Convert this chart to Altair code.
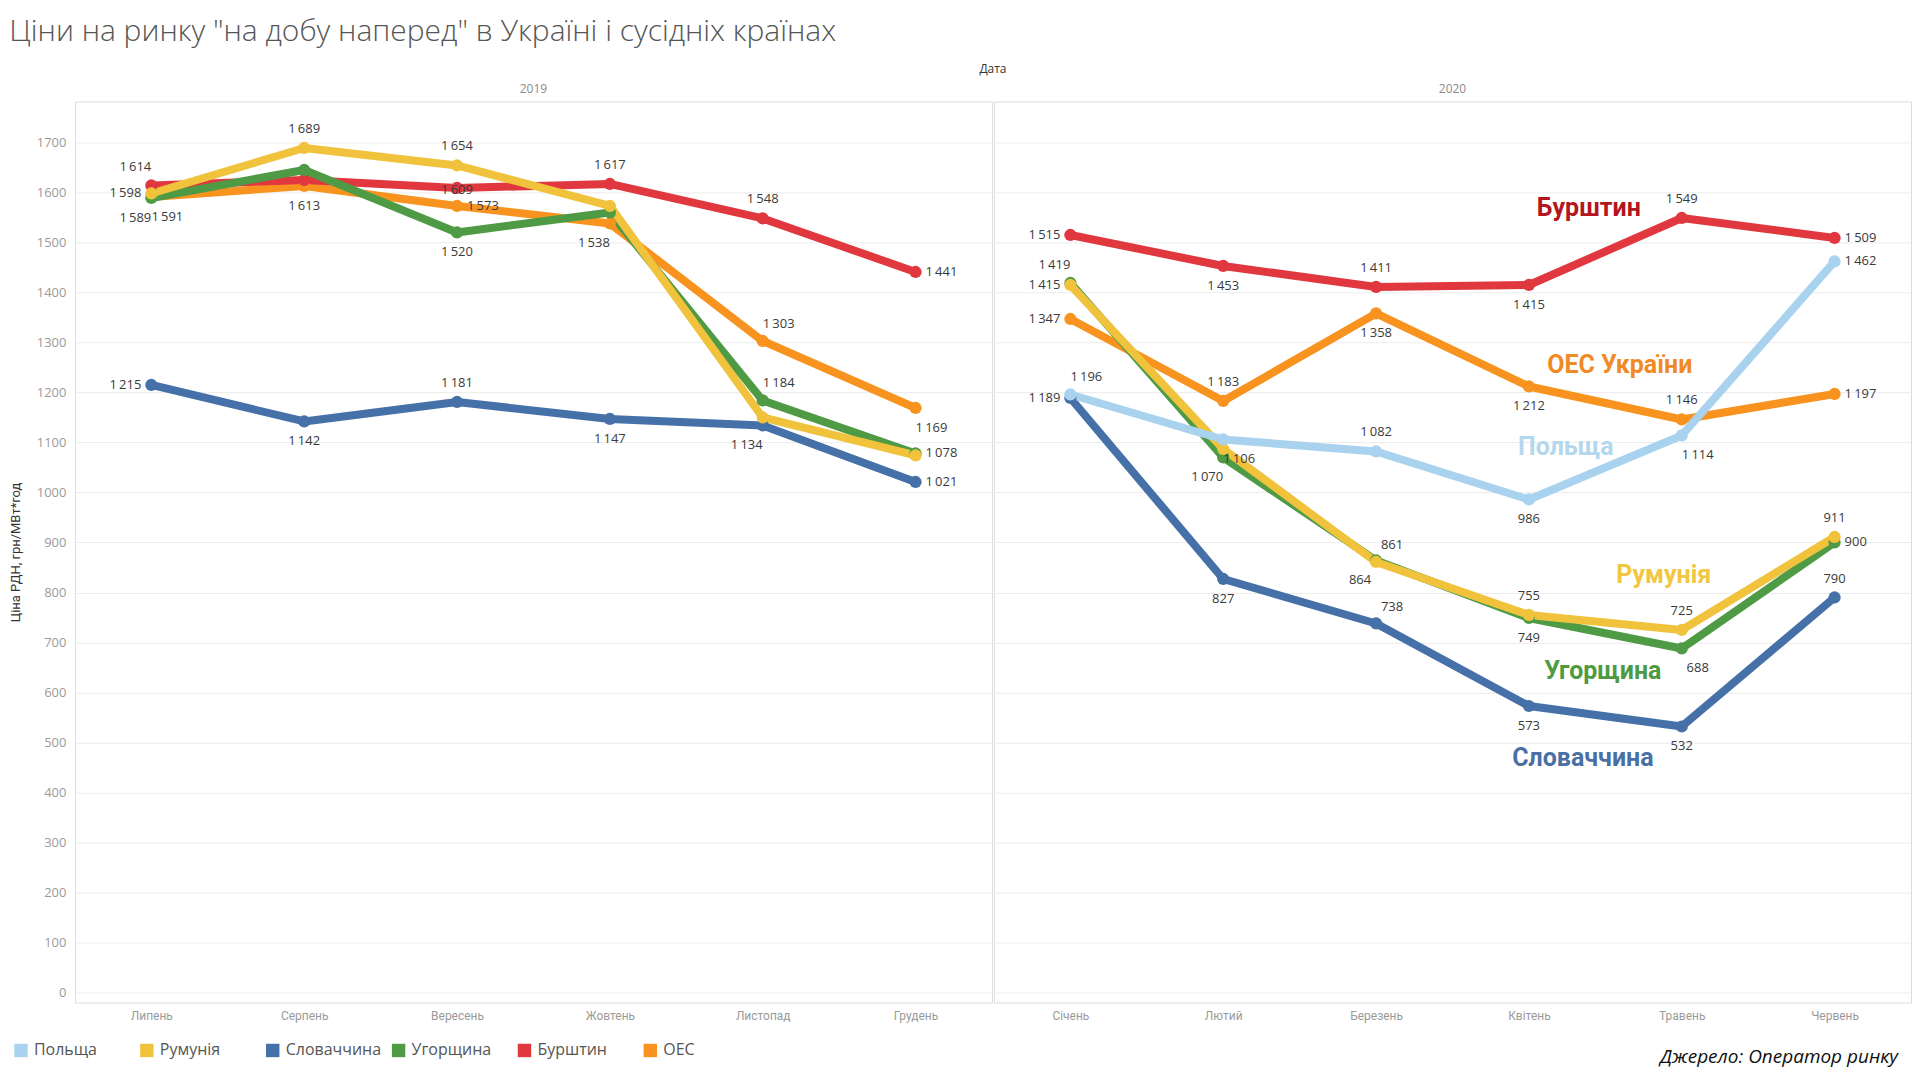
import altair as alt
import pandas as pd

# ---------------- data ----------------
years = ["2019", "2020"]
months_2019 = ["Липень", "Серпень", "Вересень", "Жовтень", "Листопад", "Грудень"]
months_2020 = ["Січень", "Лютий", "Березень", "Квітень", "Травень", "Червень"]

series = ["Польща", "Румунія", "Словаччина", "Угорщина", "Бурштин", "ОЕС"]
colors = ["#a9d2ee", "#f1c33d", "#4670a8", "#4f9a45", "#e0383e", "#f7931e"]

# drawing order (bottom -> top)
draw_order = ["ОЕС", "Бурштин", "Словаччина", "Угорщина", "Румунія", "Польща"]

values = {
    ("Польща", "2019"): None,
    ("Польща", "2020"): [1196, 1106, 1082, 986, 1114, 1462],
    ("Румунія", "2019"): [1598, 1689, 1654, 1573, 1150, 1074],
    ("Румунія", "2020"): [1415, 1087, 861, 755, 725, 911],
    ("Словаччина", "2019"): [1215, 1142, 1181, 1147, 1134, 1021],
    ("Словаччина", "2020"): [1189, 827, 738, 573, 532, 790],
    ("Угорщина", "2019"): [1589, 1645, 1520, 1560, 1184, 1078],
    ("Угорщина", "2020"): [1419, 1070, 864, 749, 688, 900],
    ("Бурштин", "2019"): [1614, 1625, 1609, 1617, 1548, 1441],
    ("Бурштин", "2020"): [1515, 1453, 1411, 1415, 1549, 1509],
    ("ОЕС", "2019"): [1591, 1613, 1573, 1538, 1303, 1169],
    ("ОЕС", "2020"): [1347, 1183, 1358, 1212, 1146, 1197],
}

# label placement codes ("" = no label)
placement = {
    ("Польща", "2020"): ["ar", "br", "a", "b", "br", "r"],
    ("Румунія", "2019"): ["l", "a", "a", "", "", ""],
    ("Румунія", "2020"): ["l", "", "ar", "a", "a", "a"],
    ("Словаччина", "2019"): ["l", "b", "a", "b", "bl", "r"],
    ("Словаччина", "2020"): ["l", "b", "ar", "b", "b", "a"],
    ("Угорщина", "2019"): ["bl", "", "b", "", "ar", "r"],
    ("Угорщина", "2020"): ["al", "bl", "bl", "b", "br", "r"],
    ("Бурштин", "2019"): ["al", "", "c", "a", "a", "r"],
    ("Бурштин", "2020"): ["l", "b", "a", "b", "a", "r"],
    ("ОЕС", "2019"): ["br", "b", "r", "bl", "ar", "br"],
    ("ОЕС", "2020"): ["l", "a", "b", "b", "a", "r"],
}

# in-chart series annotations (2020 panel)
ann_names = ["Бурштин", "ОЕС України", "Польща", "Румунія", "Угорщина", "Словаччина"]
ann_month = ["Квітень", "Травень", "Квітень", "Травень", "Квітень", "Квітень"]
ann_value = [1569, 1255, 1091, 834, 642, 468]
ann_colors = ["#b3161c", "#f08a24", "#b4d7ee", "#f2c640", "#4d9a3f", "#4a6fa5"]
ann_dx = [60, -62, 37, -18, 74, 54]

source_text = "Джерело: Оператор ринку"

# ---------------- table ----------------
rows = []
for s in draw_order:
    for y in years:
        vals = values.get((s, y))
        if vals is None:
            continue
        months = months_2019 if y == "2019" else months_2020
        for i, (m, v) in enumerate(zip(months, vals)):
            rows.append(dict(kind="data", year=y, month=m, series=s, value=v,
                             label=f"{v:,}".replace(",", "\u2009"),
                             pos=placement[(s, y)][i], name=""))
for n, m, v in zip(ann_names, ann_month, ann_value):
    rows.append(dict(kind="ann", year="2020", month=m, series=None, value=v,
                     label=n, pos="", name=n))
rows.append(dict(kind="src", year="2020", month="Червень", series=None, value=None,
                 label=source_text, pos="", name=""))
df = pd.DataFrame(rows)

month_order = months_2019 + months_2020

FONT = "Open Sans"
NARROW = "Liberation Sans Narrow, Roboto, sans-serif"

base = alt.Chart().encode(
    x=alt.X("month:N", sort=month_order, title=None,
            axis=alt.Axis(labelAngle=0, ticks=False, domain=False, labelColor="#9a9a9a",
                          labelFontSize=12, labelFont=NARROW, labelPadding=8)),
    y=alt.Y("value:Q", title="Ціна РДН, грн/МВт*год",
            scale=alt.Scale(domain=[-20, 1782], nice=False, zero=False),
            axis=alt.Axis(values=list(range(0, 1701, 100)), format="d", grid=True,
                          gridColor="#ececec", domain=False, ticks=False,
                          labelColor="#9a9a9a", labelFontSize=13, labelFont=FONT,
                          labelPadding=8, titleFont=NARROW, titleFontSize=13,
                          titleFontWeight="normal", titleColor="#333", titlePadding=14)),
)

color_enc = alt.Color("series:N", scale=alt.Scale(domain=series, range=colors),
                      legend=alt.Legend(title=None, orient="none", direction="horizontal",
                                        columns=6, gridAlign="all",
                                        legendX=-62, legendY=942, symbolType="square",
                                        symbolSize=180, symbolStrokeWidth=0,
                                        labelFontSize=16, labelColor="#555", labelFont=FONT,
                                        columnPadding=9, symbolOffset=0, labelOffset=5))

data_only = alt.datum.kind == "data"

lines = base.mark_line(strokeWidth=8, strokeJoin="round").encode(
    color=color_enc, detail="series:N").transform_filter(data_only)
points = base.mark_circle(size=150, opacity=1).encode(
    color=alt.Color("series:N", scale=alt.Scale(domain=series, range=colors), legend=None)
).transform_filter(data_only)

offsets = {
    "a": (0, -19, "center"), "b": (0, 20, "center"),
    "l": (-10, 0, "right"), "r": (10, 0, "left"),
    "al": (-16, -18, "center"), "ar": (16, -17, "center"),
    "bl": (-16, 20, "center"), "br": (16, 20, "center"),
    "c": (0, 2, "center"),
}
texts = []
for code, (dx, dy, al) in offsets.items():
    texts.append(
        base.mark_text(dx=dx, dy=dy, align=al, baseline="middle", fontSize=13,
                       font=FONT, color="#3a3a3a")
        .encode(text="label:N")
        .transform_filter((alt.datum.kind == "data") & (alt.datum.pos == code))
    )

anns = []
for n, c, dx in zip(ann_names, ann_colors, ann_dx):
    anns.append(
        base.mark_text(dx=dx, align="center", baseline="middle", fontSize=25,
                       font=NARROW, fontWeight="bold", color=c)
        .encode(text="label:N")
        .transform_filter((alt.datum.kind == "ann") & (alt.datum.name == n))
    )

src = alt.Chart().mark_text(align="right", baseline="middle", fontSize=19, font=FONT,
                            fontStyle="italic", color="#111").encode(
    x=alt.value(905), y=alt.value(957), text="label:N"
).transform_filter(alt.datum.kind == "src")

layered = alt.layer(lines, points, *texts, *anns, src).properties(width=918, height=902)

chart = alt.layer(layered, data=df).facet(
    column=alt.Column("year:N", sort=years, title="Дата",
                      header=alt.Header(labelFontSize=12, labelColor="#8a8a8a", labelFont=FONT,
                                        labelPadding=4, titleFontSize=12, titleColor="#333",
                                        titleFont=FONT, titleFontWeight="normal",
                                        titlePadding=-3)),
    spacing=0,
).resolve_scale(x="independent").properties(
    title=alt.TitleParams("Ціни на ринку \"на добу наперед\" в Україні і сусідніх країнах",
                          fontSize=30, font=FONT, fontWeight=300, color="#555",
                          anchor="start", offset=17),
    padding={"left": 1, "top": 8, "right": 0, "bottom": 0},
).configure_view(stroke="#dcdcdc", strokeWidth=1).configure_title(frame="bounds")

chart.save("out.html", embed_options={"renderer": "svg", "actions": False})
